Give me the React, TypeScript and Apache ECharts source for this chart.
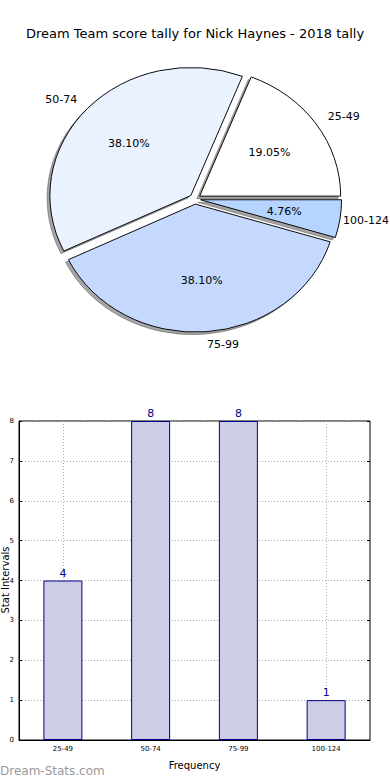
import React, { useEffect, useRef } from "react";
import * as echarts from "echarts";

const titleText = "Dream Team score tally for Nick Haynes - 2018 tally";
const categories = ["25-49", "50-74", "75-99", "100-124"];
const counts = [4, 8, 8, 1];
const pieColors = ["#ffffff", "#eaf1ff", "#c5d9ff", "#b5d4ff"];

const FONT = "DejaVu Sans";
const CX = 195;
const CY = 199;
const RX = 141;
const RY = 128;
const EXPLODE = 0.04;
const SHADOW = 0.02;
const WIDTH = 390;

export default function App() {
  const ref = useRef<HTMLDivElement>(null);
  useEffect(() => {
    if (!ref.current) return;
    const chart = echarts.init(ref.current, null, { renderer: "svg" });
    const total = counts.reduce((a, b) => a + b, 0);
    const k = RY / RX;

    const renderSlice = (params: any, api: any) => {
      const i = params.dataIndex;
      const v = api.value(0);
      let before = 0;
      for (let j = 0; j < i; j++) before += counts[j];
      const a0 = (before / total) * Math.PI * 2;
      const a1 = a0 + (v / total) * Math.PI * 2;
      const mid = (a0 + a1) / 2;
      const ox = EXPLODE * RX * Math.cos(mid);
      const oy = -EXPLODE * RX * Math.sin(mid);
      const ax = CX + ox;
      const ay = CY + oy * k;
      const c = Math.cos(mid);
      const s = Math.sin(mid);
      const label = categories[i];
      let lx = ax + 1.1 * RX * c;
      if (c > 0) {
        const w = (echarts.format as any).getTextRect
          ? (echarts.format as any).getTextRect(label, "11px " + FONT).width
          : label.length * 6.5;
        lx = Math.min(lx, WIDTH - 1 - w);
      }
      return {
        type: "group",
        children: [
          {
            type: "sector",
            x: CX,
            y: CY,
            scaleY: k,
            z2: 1,
            shape: {
              cx: ox - SHADOW * RX,
              cy: oy + SHADOW * RX,
              r: RX,
              r0: 0,
              startAngle: -a0,
              endAngle: -a1,
              clockwise: false,
            },
            style: { fill: "rgba(77,77,77,0.5)", stroke: "rgba(77,77,77,0.5)", lineWidth: 1 },
          },
          {
            type: "sector",
            x: CX,
            y: CY,
            scaleY: k,
            z2: 10,
            shape: { cx: ox, cy: oy, r: RX, r0: 0, startAngle: -a0, endAngle: -a1, clockwise: false },
            style: { fill: pieColors[i], stroke: "#000000", lineWidth: 1 },
          },
          {
            type: "text",
            z2: 20,
            x: ax + 0.6 * RX * c,
            y: ay - 0.6 * RY * s,
            style: {
              text: ((v / total) * 100).toFixed(2) + "%",
              fill: "#000",
              fontSize: 11,
              fontFamily: FONT,
              align: "center",
              verticalAlign: "middle",
            },
          },
          {
            type: "text",
            z2: 20,
            x: lx,
            y: ay - 1.1 * RY * s,
            style: {
              text: label,
              fill: "#000",
              fontSize: 11,
              fontFamily: FONT,
              align: c > 0 ? "left" : "right",
              verticalAlign: "middle",
            },
          },
        ],
      };
    };

    const option: any = {
      animation: false,
      backgroundColor: "#ffffff",
      textStyle: { fontFamily: FONT },
      title: {
        text: titleText,
        left: "center",
        top: 22,
        textStyle: { fontFamily: FONT, fontSize: 13, fontWeight: "normal", color: "#000" },
      },
      graphic: [
        {
          type: "text",
          left: 0,
          top: 765,
          style: {
            text: "Dream-Stats.com",
            fill: "#9a9a9a",
            fontSize: 12,
            fontWeight: "normal",
            fontFamily: FONT,
          },
        },
        {
          type: "text",
          x: 5,
          y: 580,
          rotation: Math.PI / 2,
          style: {
            text: "Stat Intervals",
            fill: "#000",
            fontSize: 10,
            fontFamily: FONT,
            align: "center",
            verticalAlign: "middle",
          },
        },
      ],
      grid: {
        left: 19,
        right: 20,
        top: 421,
        bottom: 40,
        show: true,
        borderColor: "#000",
        borderWidth: 1,
        backgroundColor: "transparent",
        containLabel: false,
        outerBoundsMode: "none",
      },
      xAxis: {
        type: "category",
        data: categories,
        name: "Frequency",
        nameLocation: "middle",
        nameGap: 20,
        nameTextStyle: { fontFamily: FONT, fontSize: 10, color: "#000" },
        axisLine: { show: true, lineStyle: { color: "#000" } },
        axisTick: { show: true, alignWithLabel: true, inside: true, length: 3, lineStyle: { color: "#000" } },
        axisLabel: { fontFamily: FONT, fontSize: 7, color: "#000", margin: 5 },
        splitLine: { show: true, alignWithLabel: true, lineStyle: { color: "#aaaaaa", type: [1, 2], width: 1 } },
      },
      yAxis: [
        {
          type: "value",
          min: 0,
          max: 8,
          interval: 1,
          axisLine: { show: true, lineStyle: { color: "#000" } },
          axisTick: { show: true, inside: true, length: 3, lineStyle: { color: "#000" } },
          axisLabel: { fontFamily: FONT, fontSize: 7, color: "#000", margin: 5 },
          splitLine: { show: true, lineStyle: { color: "#aaaaaa", type: [1, 2], width: 1 } },
        },
        {
          type: "value",
          min: 0,
          max: 8,
          interval: 1,
          position: "right",
          axisLine: { show: false },
          axisTick: { show: true, inside: true, length: 3, lineStyle: { color: "#000" } },
          axisLabel: { show: false },
          splitLine: { show: false },
        },
      ],
      series: [
        {
          type: "custom",
          coordinateSystem: "none",
          data: counts.map((v, i) => [v, i]),
          renderItem: renderSlice,
        },
        {
          type: "bar",
          data: counts,
          barWidth: 39,
          itemStyle: { color: "#cdcde5", borderColor: "#00008b", borderWidth: 1 },
          label: {
            show: true,
            position: "top",
            distance: 2,
            color: "#00008b",
            fontSize: 11,
            fontFamily: FONT,
          },
        },
      ],
    };
    chart.setOption(option);
    return () => chart.dispose();
  }, []);
  return (
    <div
      ref={ref}
      style={{ position: "fixed", left: 0, top: 0, width: 390, height: 780, background: "#fff" }}
    />
  );
}
